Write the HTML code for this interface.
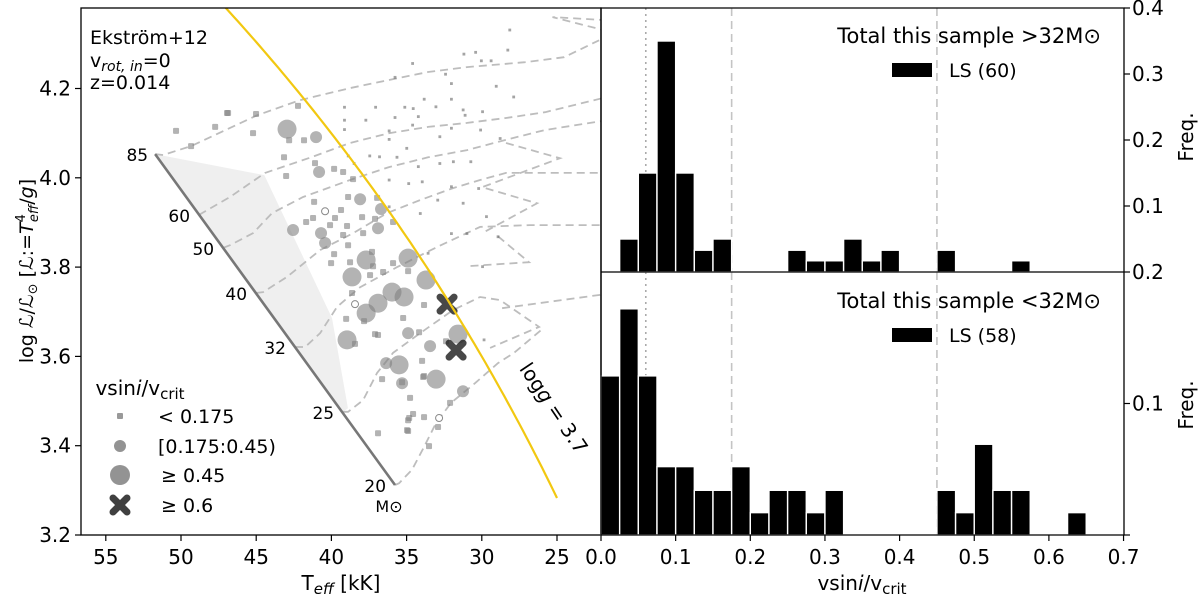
<!DOCTYPE html>
<html><head><meta charset="utf-8">
<style>
html,body{margin:0;padding:0;background:#fff;}
svg{display:block;font-family:"DejaVu Sans","Liberation Sans",sans-serif;}
</style></head>
<body>
<svg id="chart" width="1200" height="596" viewBox="0 0 1200 596" xmlns="http://www.w3.org/2000/svg">
<defs>
<clipPath id="clipL"><rect x="81" y="8" width="520" height="527"/></clipPath>
</defs>
<g id="left"></g>
<g id="right"></g>
</svg>
<script>
// ---------- Left panel data ----------
const xTicksL = [55, 50, 45, 40, 35, 30, 25];
const yTicksL = [3.2, 3.4, 3.6, 3.8, 4.0, 4.2];
const zamsMasses = ["85", "60", "50", "40", "32", "25", "20"];
const zamsT = [51.72, 48.80, 47.20, 45.01, 42.42, 39.22, 35.77];
const zamsL = [4.053, 3.917, 3.843, 3.742, 3.621, 3.476, 3.312];
const shadeT = [51.72, 44.46, 39.96, 38.9, 39.22];
const shadeL = [4.053, 4.006, 3.686, 3.484, 3.476];
const track85T = [51.72, 51.19, 49.33, 44.94, 42.08, 38.76, 36.17, 33.57, 30.98, 27.12, 24.53, 22.20];
const track85L = [4.053, 4.051, 4.071, 4.140, 4.174, 4.201, 4.219, 4.237, 4.248, 4.259, 4.270, 4.308];
const track60T = [48.80, 46.74, 44.41, 41.35, 38.76, 36.17, 33.57, 30.98, 28.39, 25.79, 21.67];
const track60L = [3.917, 3.957, 4.011, 4.046, 4.078, 4.100, 4.114, 4.123, 4.134, 4.147, 4.181];
const track50T = [47.20, 46.74, 45.21, 43.94, 41.88, 38.76, 36.17, 33.57, 30.98, 28.39, 25.79, 21.67];
const track50L = [3.843, 3.849, 3.876, 3.921, 3.957, 3.995, 4.024, 4.046, 4.062, 4.085, 4.107, 4.129];
const track40T = [45.01, 44.54, 42.95, 40.75, 38.56, 36.30, 34.10, 31.91, 30.11, 28.39, 21.67];
const track40L = [3.742, 3.744, 3.778, 3.838, 3.876, 3.921, 3.950, 3.977, 3.995, 4.011, 4.011];
const track32T = [42.42, 41.75, 40.75, 39.62, 38.09, 35.63, 32.97, 30.11, 26.79, 21.67];
const track32L = [3.621, 3.621, 3.652, 3.711, 3.755, 3.800, 3.845, 3.890, 3.894, 3.894];
const track25T = [39.22, 38.89, 37.89, 36.96, 35.90, 34.10, 31.91, 30.11, 28.78, 26.19, 29.45];
const track25L = [3.476, 3.476, 3.502, 3.563, 3.608, 3.652, 3.704, 3.733, 3.726, 3.666, 3.619];
const track20T = [35.77, 35.50, 34.64, 33.84, 33.04, 32.04, 30.45, 28.92, 27.85, 26.06];
const track20L = [3.312, 3.316, 3.346, 3.397, 3.451, 3.496, 3.540, 3.585, 3.608, 3.659];
const loop1T = [28.39, 24.80, 29.98, 26.32, 29.98];
const loop1L = [4.078, 4.044, 3.979, 3.943, 3.876];
const loop2T = [28.92, 26.86, 30.98];
const loop2L = [3.869, 3.811, 3.802];
const loop3T = [28.65, 21.67];
const loop3L = [3.708, 3.740];
const loop4T = [21.67, 25.3, 21.8];
const loop4L = [4.353, 4.36, 4.33];

const bigT = [42.95, 37.69, 34.90, 38.63, 36.90, 37.69, 35.97, 35.17, 33.71, 38.96, 35.50, 33.04, 31.58];
const bigL = [4.109, 3.816, 3.820, 3.778, 3.719, 3.697, 3.744, 3.733, 3.771, 3.637, 3.581, 3.549, 3.650];
const medT = [41.02, 40.82, 38.09, 36.90, 40.42, 36.70, 35.30, 31.25, 34.90, 33.44, 36.36, 42.55, 40.69];
const medL = [4.091, 4.013, 3.952, 3.887, 3.854, 3.930, 3.540, 3.522, 3.652, 3.623, 3.585, 3.883, 3.876];
const crossT = [32.31, 31.71];
const crossL = [3.717, 3.614];
const openT = [40.42, 38.43, 32.84];
const openL = [3.925, 3.717, 3.462];
const smallT = [46.94,45.01,45.21,42.81,41.82,43.15,41.09,39.82,39.22,43.01,38.56,38.89,41.15,39.36,41.22,41.68,40.09,38.96,39.76,37.96,37.10,37.89,39.22,38.89,39.82,40.02,37.30,37.23,35.90,36.56,37.43,34.90,38.63,39.02,37.83,35.23,33.84,36.90,38.43,34.17,32.38,36.63,34.77,33.90,32.11,34.57,33.84,34.90,34.90,36.90,33.51,35.90,36.96,38.76,50.33,49.33,47.73,46.87,42.22,34.83,34.97,32.91,33.97,33.84,35.30,37.10];
const smallL = [4.145,4.143,4.100,4.084,4.084,4.046,4.033,4.020,4.013,4.004,3.997,3.957,3.946,3.928,3.910,3.901,3.894,3.892,3.910,3.912,3.908,3.876,3.872,3.849,3.829,3.809,3.834,3.802,3.809,3.789,3.782,3.791,3.742,3.684,3.679,3.686,3.715,3.648,3.628,3.654,3.634,3.549,3.507,3.554,3.496,3.471,3.464,3.457,3.433,3.428,3.399,3.901,3.955,3.811,4.105,4.071,4.114,4.145,4.161,3.462,3.435,3.442,3.590,3.556,3.542,3.650];
const tinyT = [28.14,28.27,31.19,30.41,30.03,29.38,34.60,32.41,32.02,29.04,35.77,27.88,33.83,32.02,39.13,37.06,35.12,34.56,33.05,31.24,31.11,29.95,35.77,34.22,39.13,37.71,34.60,32.02,36.16,39.13,30.08,32.79,36.16,28.78,34.99,37.45,36.80,35.64,32.79,31.89,30.73,34.22,38.88,38.49,36.16,34.86,33.96,32.02,30.21,32.93,31.24,29.69,36.16,34.09,30.99,29.95,28.92,32.02,33.57,29.85];
const tinyL = [4.331,4.286,4.277,4.281,4.262,4.262,4.256,4.232,4.211,4.205,4.225,4.181,4.176,4.176,4.158,4.158,4.158,4.155,4.159,4.152,4.140,4.148,4.135,4.137,4.129,4.129,4.118,4.111,4.105,4.108,4.107,4.092,4.086,4.088,4.066,4.049,4.047,4.046,4.032,4.036,4.036,4.025,4.049,4.032,3.995,3.987,3.991,3.980,3.976,3.950,3.943,3.913,3.935,3.920,3.875,3.801,3.868,3.875,3.831,3.637];
const loggLine = 3.7;

// ---------- Right panel data ----------
const binWidth = 0.025;
const freqHigh = [0,0.05,0.15,0.35,0.15,0.033,0.05,0,0,0,0.033,0.017,0.017,0.05,0.017,0.033,0,0,0.033,0,0,0,0.017];
const freqLow = [0.121,0.172,0.121,0.052,0.052,0.034,0.034,0.052,0.017,0.034,0.034,0.017,0.034,0,0,0,0,0,0.034,0.017,0.069,0.034,0.034,0,0,0.017];
const xTicksR = [0.0,0.1,0.2,0.3,0.4,0.5,0.6,0.7];
const xTickLabelsR = ["0.0","0.1","0.2","0.3","0.4","0.5","0.6","0.7"];
const yTicksTop = [0.1,0.2,0.3,0.4];
const yTicksBot = [0.1,0.2];
const vLinesDashed = [0.175, 0.45];
const vLineDotted = [0.06];

const NS = "http://www.w3.org/2000/svg";
function mk(parent, tag, attrs, text) {
  const e = document.createElementNS(NS, tag);
  for (const k in attrs) e.setAttribute(k, attrs[k]);
  if (text !== undefined) e.textContent = text;
  parent.appendChild(e);
  return e;
}
const xL = T => 105.8 + (55 - T) * 15.04;
const yL = L => 535 - (L - 3.2) * 446.5;
const xR = v => 601 + v * 746.5;
const yTop = f => 272 - f * 660;
const yBot = f => 535 - f * 1315;

const left = document.getElementById('left');
const right = document.getElementById('right');
const plotL = mk(left, 'g', {'clip-path': 'url(#clipL)'});



// shaded region
let sp = shadeT.map((t, i) => xL(t) + ',' + yL(shadeL[i])).join(' ');
const shade = mk(plotL, 'polygon', {points: sp, fill: '#efefef'});



// tracks
const tracks = [[track85T,track85L,'track-85'],[track60T,track60L,'track-60'],[track50T,track50L,'track-50'],[track40T,track40L,'track-40'],[track32T,track32L,'track-32'],[track25T,track25L,'track-25'],[track20T,track20L,'track-20'],[loop1T,loop1L,'track-loop-1'],[loop2T,loop2L,'track-loop-2'],[loop3T,loop3L,'track-loop-3'],[loop4T,loop4L,'track-loop-4']];
tracks.forEach(tr => {
  const d = tr[0].map((t, i) => (i ? 'L' : 'M') + xL(t).toFixed(1) + ' ' + yL(tr[1][i]).toFixed(1)).join(' ');
  const p = mk(plotL, 'path', {d: d, fill: 'none', stroke: '#bdbdbd', 'stroke-width': 1.8, 'stroke-dasharray': '8,5'});
  
  
});

// ZAMS line
const zams = mk(plotL, 'line', {x1: xL(zamsT[0]), y1: yL(zamsL[0]), x2: xL(zamsT[6]), y2: yL(zamsL[6]), stroke: '#777', 'stroke-width': 2.6});



// tiny dots
tinyT.forEach((t, i) => {
  const r = mk(plotL, 'rect', {x: xL(t) - 1.4, y: yL(tinyL[i]) - 1.4, width: 2.8, height: 2.8, fill: 'rgba(90,90,90,0.55)'});
  
  
});
smallT.forEach((t, i) => {
  const r = mk(plotL, 'rect', {x: xL(t) - 3, y: yL(smallL[i]) - 3, width: 6, height: 6, rx: 1, fill: 'rgba(128,128,128,0.6)'});
  
  
});
medT.forEach((t, i) => {
  const c = mk(plotL, 'circle', {cx: xL(t), cy: yL(medL[i]), r: 6, fill: 'rgba(128,128,128,0.6)'});
  
  
});
bigT.forEach((t, i) => {
  const c = mk(plotL, 'circle', {cx: xL(t), cy: yL(bigL[i]), r: 9.5, fill: 'rgba(128,128,128,0.6)'});
  
  
});
openT.forEach((t, i) => {
  const c = mk(plotL, 'circle', {cx: xL(t), cy: yL(openL[i]), r: 3.5, fill: '#fff', stroke: '#888', 'stroke-width': 1});
  
  
});
function crossPath(cx, cy, s) {
  return `M${cx-s} ${cy-s} L${cx+s} ${cy+s} M${cx-s} ${cy+s} L${cx+s} ${cy-s}`;
}
crossT.forEach((t, i) => {
  const p = mk(plotL, 'path', {d: crossPath(xL(t), yL(crossL[i]), 7), stroke: 'rgba(40,40,40,0.85)', 'stroke-width': 7, 'stroke-linecap': 'round'});
  
  
});

// logg line from relation log L = 4 log(T/5.777) - logg + 4.438
let ld = [];
for (let T = 47.5; T >= 25; T -= 0.25) {
  const L = 4 * Math.log10(T / 5.777) - loggLine + 4.438;
  ld.push((ld.length ? 'L' : 'M') + xL(T).toFixed(1) + ' ' + yL(L).toFixed(1));
}
const logg = mk(plotL, 'path', {d: ld.join(' '), fill: 'none', stroke: '#f2c811', 'stroke-width': 2.2});



// mass labels
zamsMasses.forEach((m, i) => {
  const dx = i === 0 ? -7 : -9;
  const t = mk(left, 'text', {x: xL(zamsT[i]) + dx, y: yL(zamsL[i]) + 7, 'font-size': 17, 'text-anchor': 'end'}, m);
  
  
});
const msun = mk(left, 'text', {x: 389, y: 512, 'font-size': 16, 'text-anchor': 'middle'}, 'M\u2299');



// logg label
const lg = mk(left, 'text', {x: 0, y: 0, 'font-size': 20, 'text-anchor': 'middle', transform: 'translate(548,412) rotate(56)'});


mk(lg, 'tspan', {}, 'log');
mk(lg, 'tspan', {'font-style': 'italic'}, 'g');
mk(lg, 'tspan', {}, ' = 3.7');

// frame & ticks left
const frameL = mk(left, 'rect', {x: 81, y: 8, width: 520, height: 527, fill: 'none', stroke: '#000', 'stroke-width': 1.3});


xTicksL.forEach(v => {
  const x = xL(v);
  mk(left, 'line', {x1: x, y1: 535, x2: x, y2: 541, stroke: '#000', 'stroke-width': 1.2});
  const t = mk(left, 'text', {x: x, y: 564, 'font-size': 20, 'text-anchor': 'middle'}, String(v));
  
  
});
yTicksL.forEach(v => {
  const y = yL(v);
  mk(left, 'line', {x1: 75, y1: y, x2: 81, y2: y, stroke: '#000', 'stroke-width': 1.2});
  const t = mk(left, 'text', {x: 71, y: y + 7, 'font-size': 20, 'text-anchor': 'end'}, v.toFixed(1));
  
  
});

// annotation
const ann = mk(left, 'g', {'font-size': 19});


mk(ann, 'text', {x: 90, y: 44}, 'Ekström+12');
const a2 = mk(ann, 'text', {x: 90, y: 67});
mk(a2, 'tspan', {}, 'v');
mk(a2, 'tspan', {'font-style': 'italic', 'font-size': 14, dy: 4}, 'rot, in');
mk(a2, 'tspan', {dy: -4}, '=0');
mk(ann, 'text', {x: 90, y: 89}, 'z=0.014');

// legend
const leg = mk(left, 'g', {});


const lt = mk(leg, 'text', {x: 140, y: 395, 'font-size': 20, 'text-anchor': 'middle'});
mk(lt, 'tspan', {}, 'vsin');
mk(lt, 'tspan', {'font-style': 'italic'}, 'i');
mk(lt, 'tspan', {}, '/v');
mk(lt, 'tspan', {'font-size': 15, dy: 4}, 'crit');
mk(leg, 'rect', {x: 117, y: 413, width: 6, height: 6, rx: 1, fill: 'rgba(128,128,128,0.8)'});
mk(leg, 'circle', {cx: 120, cy: 446, r: 6, fill: 'rgba(128,128,128,0.85)'});
mk(leg, 'circle', {cx: 120, cy: 475, r: 10, fill: 'rgba(128,128,128,0.85)'});
mk(leg, 'path', {d: crossPath(120, 505, 7), stroke: '#404040', 'stroke-width': 7, 'stroke-linecap': 'round'});
mk(leg, 'text', {x: 158, y: 423, 'font-size': 19}, '< 0.175');
mk(leg, 'text', {x: 158, y: 453, 'font-size': 19}, '[0.175:0.45)');
mk(leg, 'text', {x: 161, y: 482, 'font-size': 19}, '\u2265  0.45');
mk(leg, 'text', {x: 161, y: 512, 'font-size': 19}, '\u2265  0.6');

// axis labels
const xlab = mk(left, 'text', {x: 341, y: 590, 'font-size': 20, 'text-anchor': 'middle'});


mk(xlab, 'tspan', {}, 'T');
mk(xlab, 'tspan', {'font-style': 'italic', 'font-size': 15, dy: 4}, 'eff');
mk(xlab, 'tspan', {dy: -4}, ' [kK]');
const ylab = mk(left, 'text', {x: 0, y: 0, 'font-size': 19, 'text-anchor': 'middle', transform: 'translate(33,271) rotate(-90)'});


mk(ylab, 'tspan', {}, 'log ');
mk(ylab, 'tspan', {'font-style': 'italic'}, '\u2112');
mk(ylab, 'tspan', {}, '/');
mk(ylab, 'tspan', {'font-style': 'italic'}, '\u2112');
mk(ylab, 'tspan', {'font-size': 13, dy: 4}, '\u2299');
mk(ylab, 'tspan', {dy: -4}, ' [');
mk(ylab, 'tspan', {'font-style': 'italic'}, '\u2112');
mk(ylab, 'tspan', {}, ':=');
mk(ylab, 'tspan', {'font-style': 'italic'}, 'T');
mk(ylab, 'tspan', {'font-size': 13, dy: -8}, '4');
mk(ylab, 'tspan', {'font-size': 13, 'font-style': 'italic', dx: -8, dy: 13}, 'eff');
mk(ylab, 'tspan', {dy: -5}, '/');
mk(ylab, 'tspan', {'font-style': 'italic'}, 'g');
mk(ylab, 'tspan', {}, ']');

// ---------- Right panel ----------
function drawHist(freq, yfun, name) {
  const g = mk(right, 'g', {});
  
  
  freq.forEach((f, i) => {
    if (f <= 0) return;
    const x0 = xR(i * binWidth), x1 = xR((i + 1) * binWidth);
    const r = mk(g, 'rect', {x: x0, y: yfun(f), width: x1 - x0, height: yfun(0) - yfun(f), fill: '#000', stroke: '#fff', 'stroke-width': 1.4});
    
    
  });
}
function vlines(yA, yB) {
  vLinesDashed.forEach(v => {
    const l = mk(right, 'line', {x1: xR(v), y1: yA, x2: xR(v), y2: yB, stroke: '#c4c4c4', 'stroke-width': 1.6, 'stroke-dasharray': '8,5'});
    
    
  });
  vLineDotted.forEach(v => {
    const l = mk(right, 'line', {x1: xR(v), y1: yA, x2: xR(v), y2: yB, stroke: '#aaa', 'stroke-width': 1.6, 'stroke-dasharray': '2,4'});
    
    
  });
}
vlines(8, 272);
vlines(272, 535);
drawHist(freqHigh, yTop, 'histogram-high-mass');
drawHist(freqLow, yBot, 'histogram-low-mass');

const fr = mk(right, 'path', {d: 'M601 8 H1124 V535 H601 Z M601 272 H1124', fill: 'none', stroke: '#000', 'stroke-width': 1.3});



xTicksR.forEach((v, i) => {
  const x = xR(v);
  mk(right, 'line', {x1: x, y1: 535, x2: x, y2: 541, stroke: '#000', 'stroke-width': 1.2});
  const t = mk(right, 'text', {x: x, y: 564, 'font-size': 20, 'text-anchor': 'middle'}, xTickLabelsR[i]);
  
  
});
yTicksTop.forEach(v => {
  const y = yTop(v);
  mk(right, 'line', {x1: 1124, y1: y, x2: 1130, y2: y, stroke: '#000', 'stroke-width': 1.2});
  const t = mk(right, 'text', {x: 1132, y: y + 7, 'font-size': 20}, v.toFixed(1));
  
  
});
yTicksBot.forEach(v => {
  const y = yBot(v);
  mk(right, 'line', {x1: 1124, y1: y, x2: 1130, y2: y, stroke: '#000', 'stroke-width': 1.2});
  const t = mk(right, 'text', {x: 1132, y: y + 7, 'font-size': 20}, v.toFixed(1));
  
  
});
mk(right, 'line', {x1: 1124, y1: 535, x2: 1130, y2: 535, stroke: '#000', 'stroke-width': 1.2});

function histLegend(y0, title, lab, nm) {
  const g = mk(right, 'g', {});
  
  
  mk(g, 'text', {x: 1101, y: y0, 'font-size': 21, 'text-anchor': 'end'}, title);
  mk(g, 'rect', {x: 892, y: y0 + 20, width: 40, height: 14, fill: '#000'});
  mk(g, 'text', {x: 949, y: y0 + 34, 'font-size': 19}, lab);
}
histLegend(43, 'Total this sample >32M\u2299', 'LS (60)', 'legend-high-mass');
histLegend(308, 'Total this sample <32M\u2299', 'LS (58)', 'legend-low-mass');

['top', 'bottom'].forEach((k, i) => {
  const cy = i === 0 ? 137 : 405;
  const t = mk(right, 'text', {x: 0, y: 0, 'font-size': 20, 'text-anchor': 'middle', transform: `translate(1193,${cy}) rotate(-90)`}, 'Freq.');
  
  
});
const xr = mk(right, 'text', {x: 862, y: 590, 'font-size': 20, 'text-anchor': 'middle'});


mk(xr, 'tspan', {}, 'vsin');
mk(xr, 'tspan', {'font-style': 'italic'}, 'i');
mk(xr, 'tspan', {}, '/v');
mk(xr, 'tspan', {'font-size': 15, dy: 4}, 'crit');
</script>
</body></html>
